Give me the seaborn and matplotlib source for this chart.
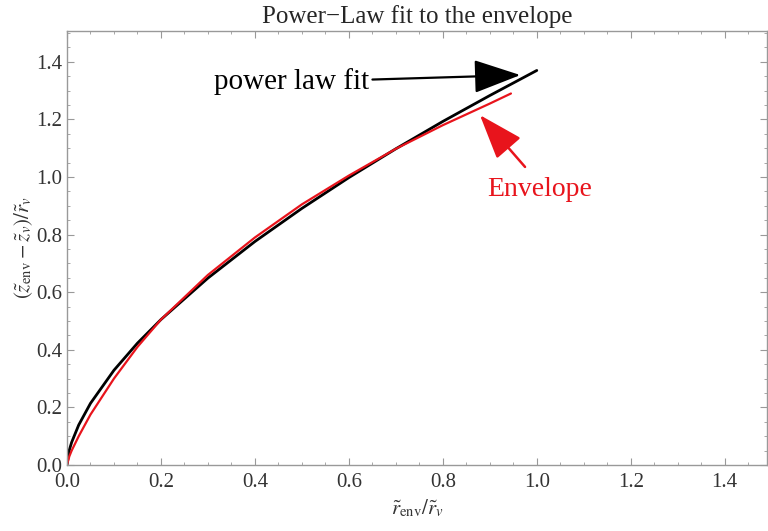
import matplotlib
matplotlib.use("Agg")
import matplotlib.pyplot as plt
import seaborn as sns
import pandas as pd
from matplotlib.ticker import MultipleLocator

# Data
fit_x = [0.0, 0.005, 0.01, 0.025, 0.05, 0.1, 0.15, 0.2, 0.3, 0.4, 0.5, 0.6, 0.7, 0.8, 0.9, 1.0]
fit_y = [0.0, 0.052, 0.079, 0.139, 0.214, 0.329, 0.423, 0.505, 0.649, 0.776, 0.891, 0.998, 1.098, 1.193, 1.283, 1.37]
env_x = [0.0, 0.005, 0.01, 0.025, 0.05, 0.1, 0.15, 0.2, 0.3, 0.4, 0.5, 0.6, 0.7, 0.8, 0.9, 0.945]
env_y = [0.0, 0.03, 0.05, 0.10, 0.175, 0.30, 0.41, 0.505, 0.66, 0.79, 0.905, 1.005, 1.098, 1.18, 1.255, 1.29]

sns.set_style("white")
plt.rcParams['font.family'] = ['Liberation Serif', 'DejaVu Serif']
plt.rcParams['mathtext.fontset'] = 'stix'

fit = pd.DataFrame({"x": fit_x, "y": fit_y})
env = pd.DataFrame({"x": env_x, "y": env_y})

fig = plt.figure(figsize=(7.68, 5.31), dpi=100)
ax = fig.add_axes([0.0872, 0.1243, 0.9115, 0.8173])

sns.lineplot(data=fit, x="x", y="y", ax=ax, color="black", lw=2.0, sort=False)
sns.lineplot(data=env, x="x", y="y", ax=ax, color="#e8141c", lw=1.6, sort=False)

ax.set_xlim(0, 1.49)
ax.set_ylim(0, 1.507)
ax.xaxis.set_major_locator(MultipleLocator(0.2))
ax.yaxis.set_major_locator(MultipleLocator(0.2))
ax.xaxis.set_minor_locator(MultipleLocator(0.05))
ax.yaxis.set_minor_locator(MultipleLocator(0.05))
ax.xaxis.set_major_formatter(matplotlib.ticker.FormatStrFormatter('%.1f'))
ax.yaxis.set_major_formatter(matplotlib.ticker.FormatStrFormatter('%.1f'))
ax.tick_params(which='both', direction='in', top=True, right=True, color='#999999',
               labelsize=15, labelcolor='#333333', bottom=True, left=True)
ax.tick_params(which='major', length=5, width=0.8)
ax.tick_params(which='minor', length=2.5, width=0.6)
ax.tick_params(axis='x', pad=6)
for s in ax.spines.values():
    s.set_color('#999999')
    s.set_linewidth(1.0)

ax.set_xlabel(r'$\tilde{r}_{\mathrm{env}}/\tilde{r}_{v}$', fontsize=15, color='#333333', labelpad=4)
ax.set_ylabel(r'$(\tilde{z}_{\mathrm{env}}-\tilde{z}_{v})/\tilde{r}_{v}$', fontsize=15, color='#333333', labelpad=1)
ax.set_title('Power\u2212Law fit to the envelope', fontsize=18, pad=6)

ax.annotate('power law fit', xy=(0.965, 1.354), xytext=(0.313, 1.33),
            fontsize=21, color='black', va='center', ha='left',
            arrowprops=dict(arrowstyle='-|>,head_length=1.4,head_width=0.5', color='black',
                            lw=1.6, shrinkA=0, shrinkB=0))
ax.text(1.006, 0.955, 'Envelope', fontsize=20, color='#e8141c', va='center', ha='center')
ax.annotate('', xy=(0.879, 1.215), xytext=(0.975, 1.035),
            arrowprops=dict(arrowstyle='-|>,head_length=1.4,head_width=0.5', color='#e8141c',
                            lw=1.8, shrinkA=0, shrinkB=0, mutation_scale=20))

fig.savefig("out.png", dpi=100)
